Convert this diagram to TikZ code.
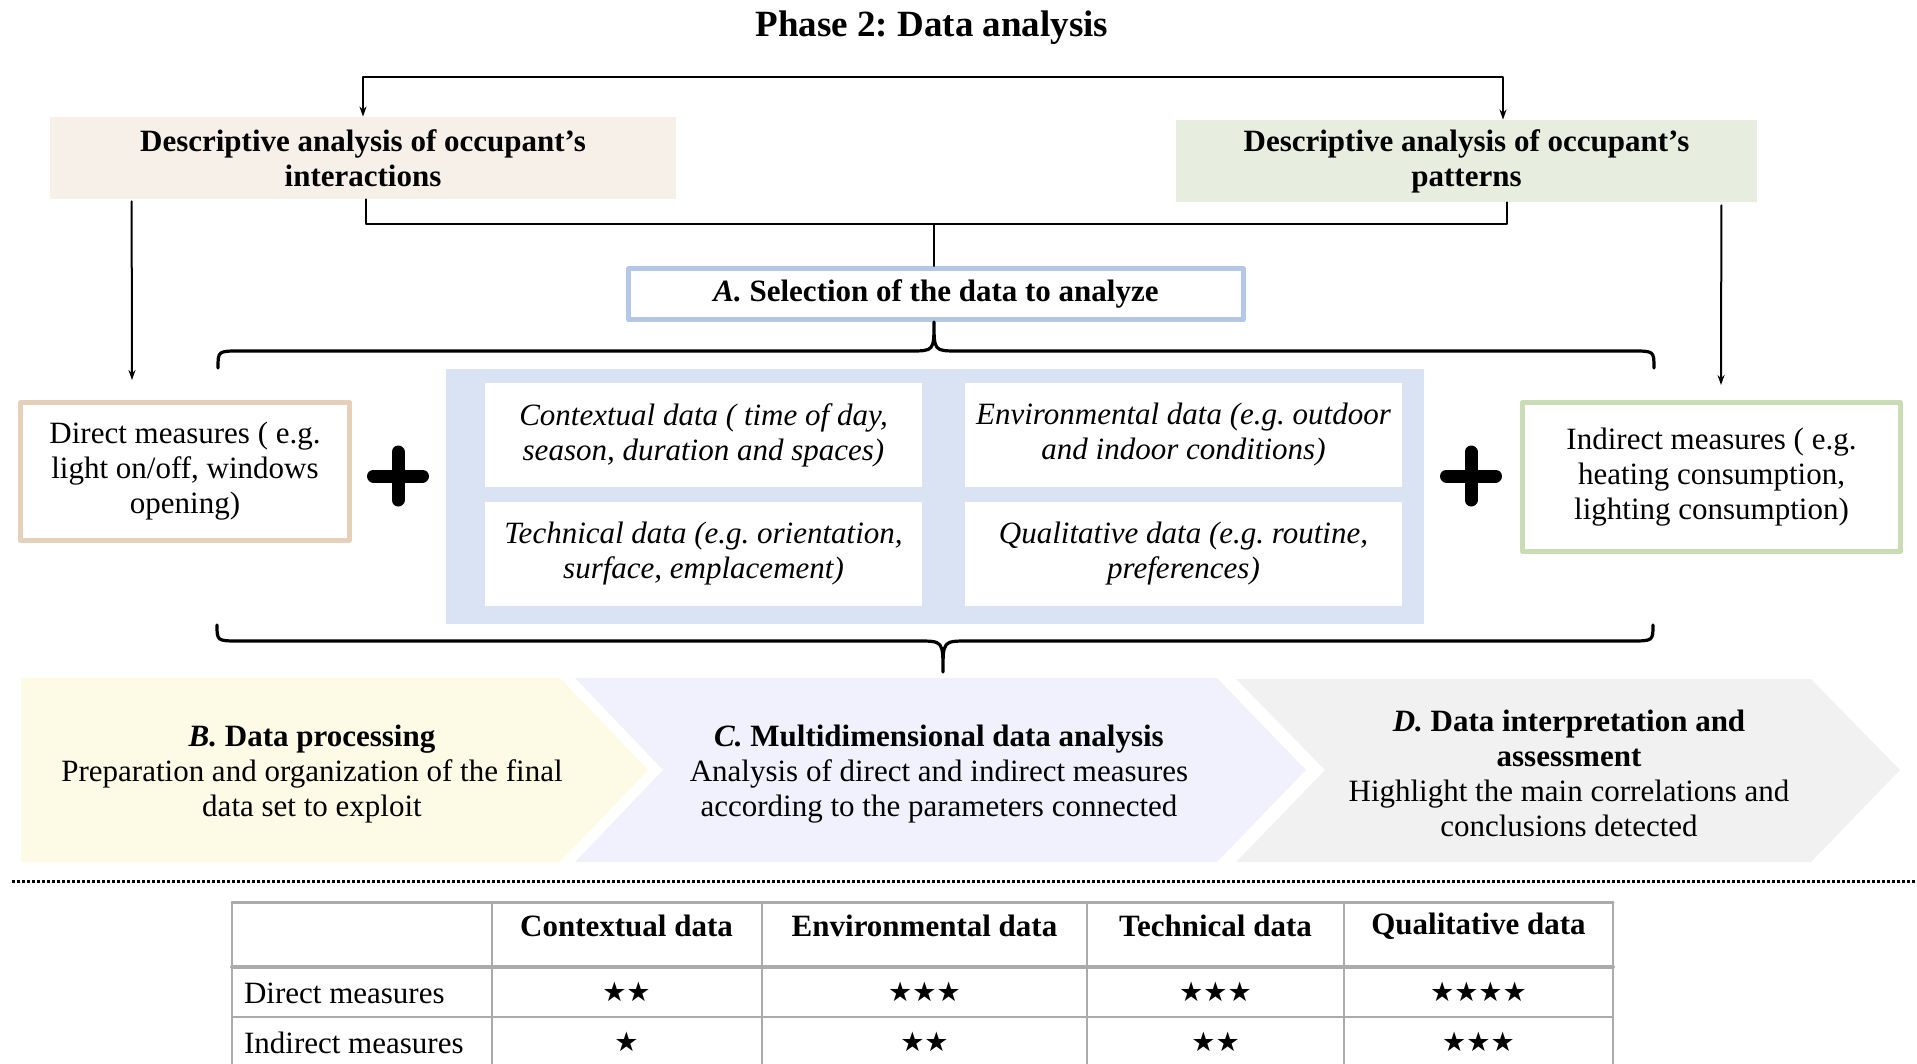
\documentclass[tikz,border=0pt]{standalone}
\usepackage{fontspec}
\setmainfont{Liberation Serif}
\newfontfamily\starfont{DejaVu Sans}
\usepackage{xcolor}
\usetikzlibrary{arrows.meta}
\usetikzlibrary{calc}

\definecolor{beigefill}{HTML}{F7F0E9}
\definecolor{greenfill}{HTML}{E8EEDF}
\definecolor{selblue}{HTML}{B4C7E7}
\definecolor{panelblue}{HTML}{DAE3F3}
\definecolor{directline}{HTML}{E6D0B9}
\definecolor{indirectline}{HTML}{C9DCB4}
\definecolor{stepB}{HTML}{FDFBE6}
\definecolor{stepC}{HTML}{F1F1FD}
\definecolor{stepD}{HTML}{F1F1F1}
\definecolor{gridgray}{HTML}{ABABAB}

\frenchspacing

\begin{document}
\begin{tikzpicture}[x=0.5pt, y=-0.5pt, >={Stealth[length=5pt,width=3.5pt]},
    line cap=round, line join=round,
    font=\fontsize{15.5pt}{17.5pt}\selectfont,
    link/.style={line width=1pt},
    brace/.style={line width=1.6pt},
    plus/.style={line width=6.5pt, line cap=round},
    headbox/.style={minimum height=41pt, align=center, font=\fontsize{15.5pt}{17.5pt}\selectfont\bfseries},
    datacell/.style={fill=white, minimum width=218.5pt, minimum height=52pt, align=center,
        font=\fontsize{15.5pt}{17.5pt}\selectfont\itshape},
    measbox/.style={line width=2.5pt, fill=white, align=center},
    stars/.style={font=\starfont\fontsize{13.5pt}{15pt}\selectfont},
    colhead/.style={font=\fontsize{15.5pt}{17.5pt}\selectfont\bfseries}]

    \useasboundingbox (0,0) rectangle (1917,1064);

    \node[font=\fontsize{18.5pt}{22pt}\selectfont\bfseries] (title) at (932,28) {Phase 2: Data analysis};

    \node[headbox, fill=beigefill, minimum width=313pt] (interact) at (363,158)
        {Descriptive analysis of occupant's\\interactions};
    \node[headbox, fill=greenfill, minimum width=290.5pt] (pattern) at (1466.5,161)
        {Descriptive analysis of occupant's\\patterns};

    \node[draw=selblue, line width=2.5pt, fill=white, minimum width=307.5pt, minimum height=25.5pt,
        font=\fontsize{15.5pt}{17.5pt}\selectfont\bfseries] (select) at (936,294)
        {{\itshape A.} Selection of the data to analyze};

    \draw[link, <->] (interact.north) -- ++(0,-40) -| ($(pattern.north)+(36.5,0)$);
    \coordinate (join) at (934,224);
    \draw[link] ($(interact.south)+(3,0)$) |- (join) -| ($(pattern.south)+(40.5,0)$);
    \draw[link] (join) -- (join |- select.north);

    % data types
    \node[fill=panelblue, minimum width=489pt, minimum height=127.5pt] (panel) at (935,496.5) {};
    \node[datacell] (ctx) at (703.5,435) {Contextual data ( time of day,\\season, duration and spaces)};
    \node[datacell] (env) at (1183.5,435) {Environmental data (e.g. outdoor\\and indoor conditions)};
    \node[datacell] (tech) at (703.5,553.5) {Technical data (e.g. orientation,\\surface, emplacement)};
    \node[datacell] (qual) at (1183.5,553.5) {Qualitative data (e.g. routine,\\preferences)};

    \node[measbox, draw=directline, minimum width=164.5pt, minimum height=69pt] (direct) at (185,471.5)
        {Direct measures ( e.g.\\light on/off, windows\\opening)};
    \node[measbox, draw=indirectline, minimum width=189pt, minimum height=74.5pt] (indirect) at (1711.5,477)
        {Indirect measures ( e.g.\\heating consumption,\\lighting consumption)};

    \draw[link, ->] ($(interact.south west)+(82,2)$) -- ($(direct.north west)+(114,-20)$);
    \draw[link, ->] ($(pattern.south east)+(-36,3)$) -- ($(indirect.north)+(9.5,-15)$);

    \draw[plus] (398,452) -- (398,500) (373.5,476) -- (422.5,476);
    \draw[plus] (1471,452) -- (1471,500) (1446.5,476) -- (1495.5,476);

    % braces
    \draw[brace] (218,368) .. controls (218,351) .. (240,351) -- (910,351)
        .. controls (934,351) .. (934,322) .. controls (934,351) .. (958,351)
        -- (1632,351) .. controls (1654,351) .. (1654,368);
    \draw[brace] (217,625) .. controls (217,641) .. (240,641) -- (918,641)
        .. controls (943,641) .. (943,672) .. controls (943,641) .. (968,641)
        -- (1630,641) .. controls (1653,641) .. (1653,625);

    % steps B, C, D
    \fill[stepB] (21,678) -- (560,678) -- (648,770) -- (560,862) -- (21,862) -- cycle;
    \fill[stepC] (575,678) -- (1217,678) -- (1306,770) -- (1217,862) -- (575,862) -- (663,770) -- cycle;
    \fill[stepD] (1236,679) -- (1811,679) -- (1900,770) -- (1811,862) -- (1236,862) -- (1325,770) -- cycle;

    \node[align=center] (process) at (312,774)
        {\textbf{\textit{B.} Data processing}\\Preparation and organization of the final\\data set to exploit};
    \node[align=center] (multi) at (939,774)
        {\textbf{\textit{C.} Multidimensional data analysis}\\Analysis of direct and indirect measures\\according to the parameters connected};
    \node[align=center] (interp) at (1569,773)
        {\textbf{\textit{D.} Data interpretation and}\\\textbf{assessment}\\Highlight the main correlations and\\conclusions detected};

    \draw[line width=1.5pt, line cap=butt, dash pattern=on 1.5pt off 1pt] (12,881) -- (1917,881);

    % table
    \draw[gridgray, line width=0.75pt] (232,902) -- (232,1064) (492,902) -- (492,1064)
        (762,902) -- (762,1064) (1087,902) -- (1087,1064) (1344,902) -- (1344,1064)
        (1613,902) -- (1613,1064);
    \draw[gridgray, line width=1.5pt] (232,902) -- (1613,902);
    \draw[gridgray, line width=2pt] (232,967) -- (1613,967);
    \draw[gridgray, line width=0.75pt] (232,1017) -- (1613,1017);

    \node[colhead] (hctx) at (626.5,926) {Contextual data};
    \node[colhead] (henv) at (924.5,926) {Environmental data};
    \node[colhead] (htech) at (1215.5,926) {Technical data};
    \node[colhead] (hqual) at (1478.5,926) {Qualitative data};

    \node[anchor=west] (rdirect) at (237,993) {Direct measures};
    \node[anchor=west] (rindirect) at (237,1043) {Indirect measures};

    \node[stars] (s11) at (626.5,992) {★★};
    \node[stars] (s12) at (924.5,992) {★★★};
    \node[stars] (s13) at (1215.5,992) {★★★};
    \node[stars] (s14) at (1478.5,992) {★★★★};
    \node[stars] (s21) at (626.5,1042) {★};
    \node[stars] (s22) at (924.5,1042) {★★};
    \node[stars] (s23) at (1215.5,1042) {★★};
    \node[stars] (s24) at (1478.5,1042) {★★★};

\end{tikzpicture}
\end{document}
